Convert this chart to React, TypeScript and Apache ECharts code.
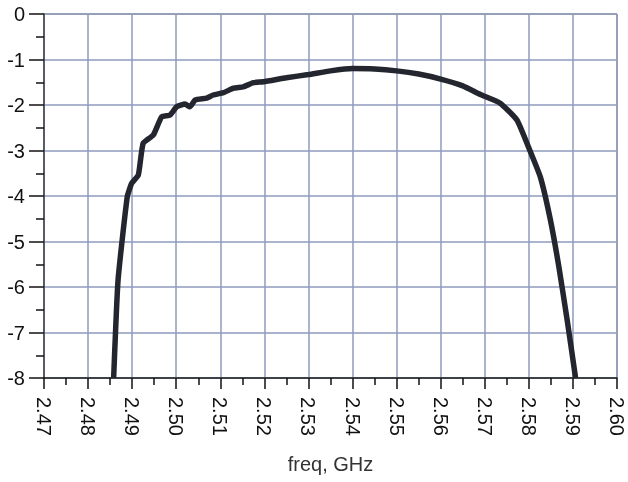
import React, { useEffect, useRef } from "react";
import * as echarts from "echarts";

const freq = [
  2.4858, 2.4868, 2.4889, 2.4899, 2.4914, 2.4925, 2.4948, 2.4967, 2.4986, 2.5001,
  2.502, 2.5031, 2.5043, 2.5069, 2.5084, 2.5107, 2.513, 2.5152, 2.5175, 2.5198,
  2.525, 2.53, 2.535, 2.54, 2.545, 2.55, 2.555, 2.56, 2.565, 2.569,
  2.5735, 2.5773, 2.5799, 2.5826, 2.5849, 2.5868, 2.5887, 2.5906,
];
const gain = [
  -8.0, -5.85, -4.01, -3.72, -3.54, -2.84, -2.66, -2.26, -2.22, -2.04,
  -1.98, -2.04, -1.89, -1.85, -1.78, -1.73, -1.63, -1.6, -1.51, -1.49,
  -1.4, -1.33, -1.25, -1.2, -1.21, -1.25, -1.32, -1.43, -1.58, -1.77,
  -1.96, -2.33, -2.92, -3.58, -4.53, -5.55, -6.73, -8.0,
];
const xName = "freq, GHz";

export default function App() {
  const ref = useRef<HTMLDivElement>(null);
  useEffect(() => {
    if (!ref.current) return;
    const chart = echarts.init(ref.current, null, { renderer: "svg" });
    const font = "Liberation Sans";
    chart.setOption({
      animation: false,
      grid: {
        left: 44,
        right: 11,
        top: 14,
        bottom: 104,
        show: true,
        borderColor: "#666",
        borderWidth: 1,
        outerBoundsMode: "none",
        containLabel: false,
      },
      xAxis: {
        type: "value",
        min: 2.47,
        max: 2.6,
        interval: 0.01,
        name: xName,
        nameLocation: "middle",
        nameGap: 76,
        nameTextStyle: { fontFamily: font, fontSize: 20, color: "#333" },
        axisLine: { onZero: false, lineStyle: { color: "#222", width: 1.5 } },
        axisTick: { show: true, length: 11, lineStyle: { color: "#111", width: 1.5 } },
        minorTick: { show: true, splitNumber: 2, length: 7, lineStyle: { color: "#111", width: 1.5 } },
        splitLine: { show: true, lineStyle: { color: "#8e9bbd", width: 1.5 } },
        axisLabel: {
          rotate: -90,
          margin: 19,
          fontFamily: font,
          fontSize: 20,
          color: "#111",
          formatter: (v: number) => v.toFixed(2),
        },
      },
      yAxis: {
        type: "value",
        min: -8,
        max: 0,
        interval: 1,
        axisLine: { show: true, onZero: false, lineStyle: { color: "#444", width: 1.5 } },
        axisTick: { show: true, length: 15, lineStyle: { color: "#111", width: 1.5 } },
        minorTick: { show: true, splitNumber: 2, length: 8, lineStyle: { color: "#111", width: 1.5 } },
        splitLine: { show: true, lineStyle: { color: "#8e9bbd", width: 1.5 } },
        axisLabel: { margin: 19, fontFamily: font, fontSize: 20, color: "#111" },
      },
      series: [
        {
          type: "line",
          data: freq.map((f, i) => [f, gain[i]]),
          showSymbol: false,
          smooth: 0.15,
          lineStyle: { color: "#23262e", width: 5.5 },
        },
      ],
    });
    return () => chart.dispose();
  }, []);
  return (
    <div
      ref={ref}
      style={{ position: "fixed", left: 0, top: 0, width: 628, height: 482 }}
    />
  );
}
